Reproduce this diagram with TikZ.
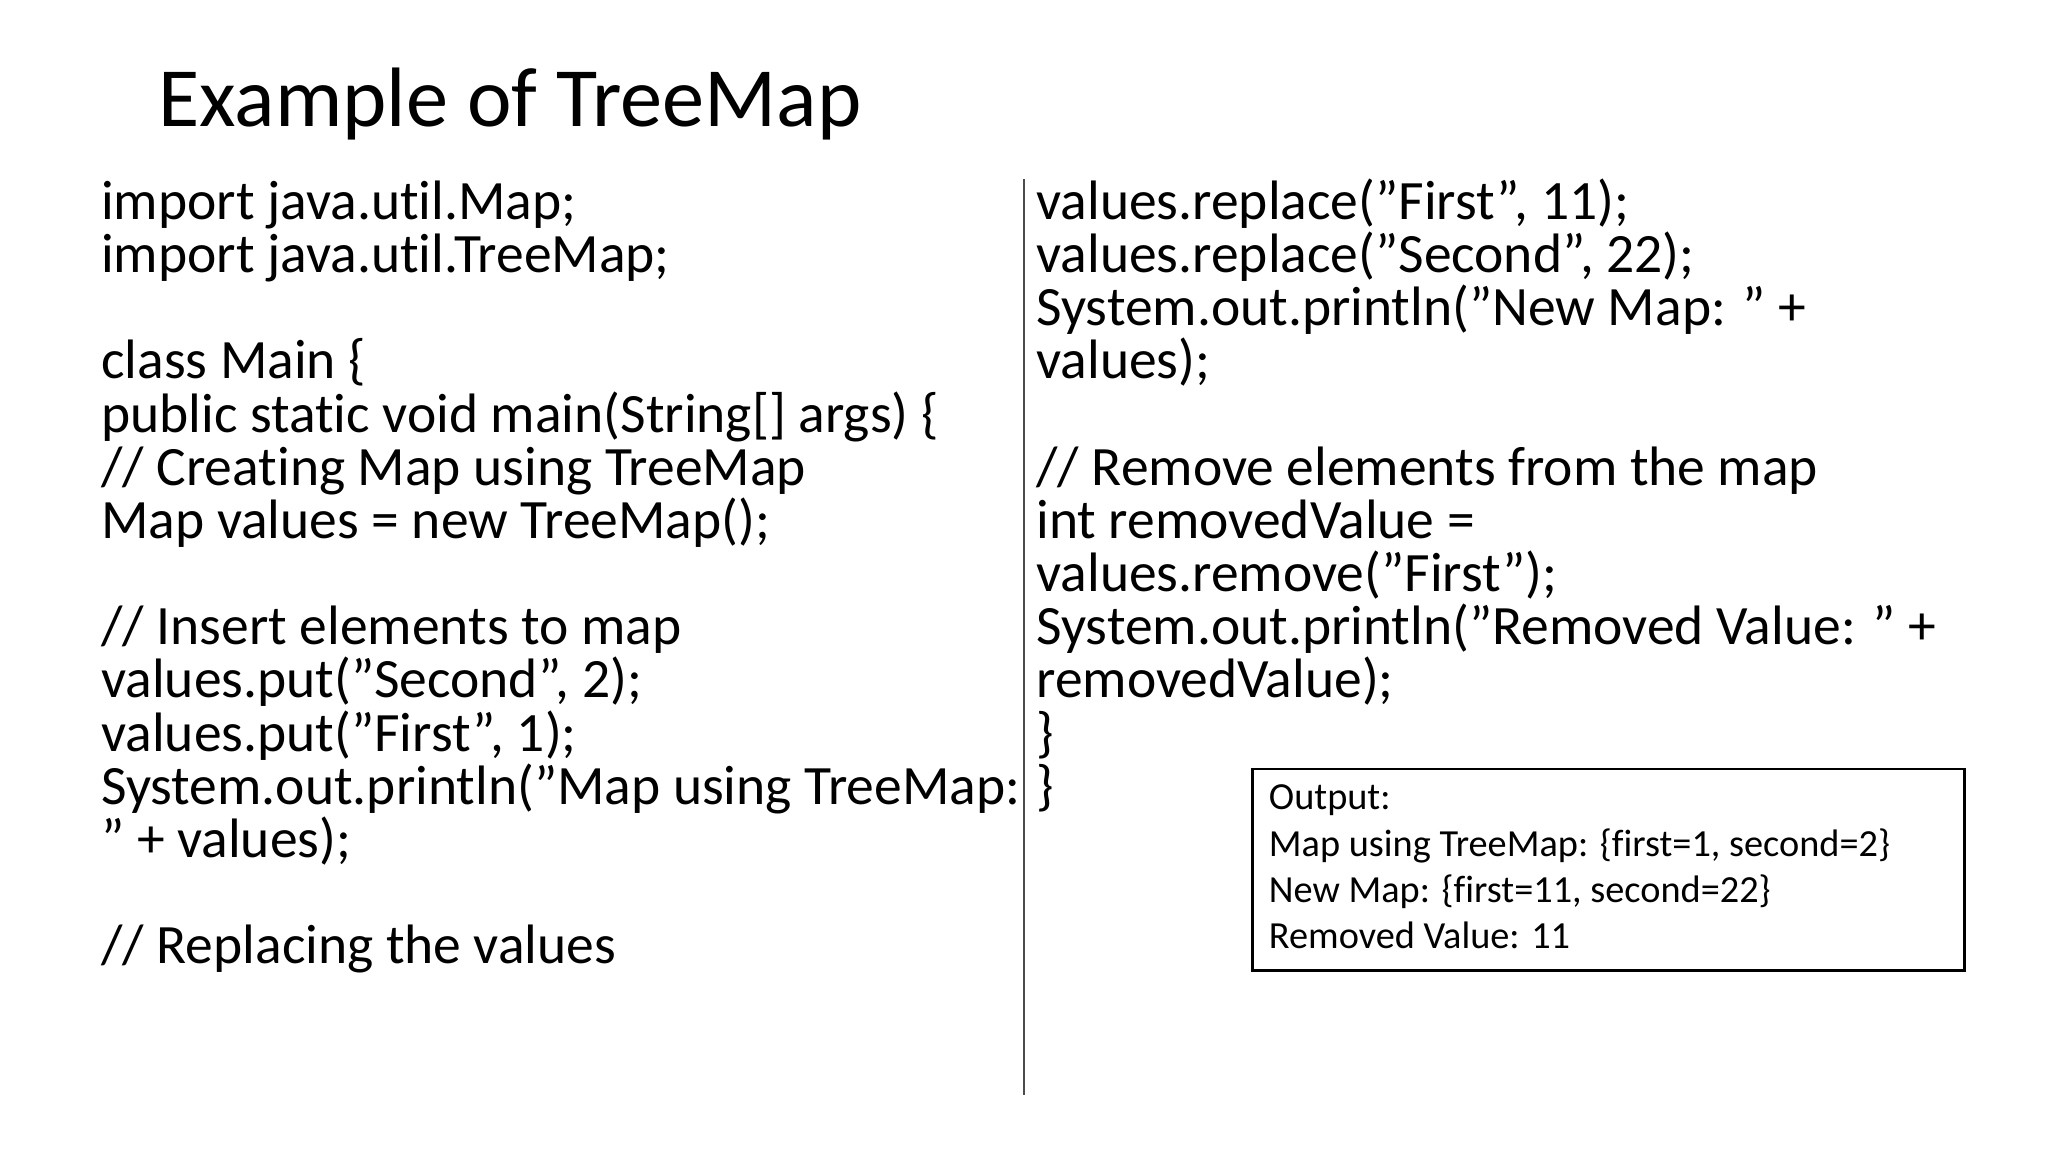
\documentclass[tikz,border=0pt]{standalone}
\usepackage{fontspec}
\defaultfontfeatures{}
\setmainfont{Carlito}[Ligatures=NoCommon]
\begin{document}
\begin{tikzpicture}[x=0.013061cm,y=-0.013061cm,
  code/.style={anchor=base west,inner sep=0,font=\fontsize{15.8}{19}\selectfont},
  outtxt/.style={anchor=base west,inner sep=0,font=\fontsize{10.9}{13}\selectfont}]
\useasboundingbox (0,0) rectangle (1568,882);
\node[anchor=base west,inner sep=0,font=\fontsize{24}{28}\selectfont] (title) at (121,97) {Example of TreeMap};
\foreach \i/\t in {0/{import java.util.Map;},1/{import java.util.TreeMap;},3/{class Main \{},4/{public static void main(String[] args) \{},5/{// Creating Map using TreeMap},6/{Map values = new TreeMap();},8/{// Insert elements to map},9/{values.put("Second", 2);},10/{values.put("First", 1);},11/{System.out.println("Map using TreeMap:},12/{" + values);},14/{// Replacing the values}}
  \node[code] (l\i) at (77,{168+40.7*\i}) {\t};
\foreach \i/\t in {0/{values.replace("First", 11);},1/{values.replace("Second", 22);},2/{System.out.println("New Map: " +},3/{values);},5/{// Remove elements from the map},6/{int removedValue =},7/{values.remove("First");},8/{System.out.println("Removed Value: " +},9/{removedValue);},10/{\}},11/{\}}}
  \node[code] (r\i) at (793,{168+40.7*\i}) {\t};
\coordinate (vt) at (784,137);
\coordinate (vb) at (784,838);
\draw[line width=0.6pt,black!70] (vt) -- (vb);
\node[draw,line width=0.7pt,minimum width={545*0.013061cm},minimum height={154*0.013061cm},anchor=north west,inner sep=0] (box) at (958,588) {};
\foreach \i/\t in {0/{Output:},1/{Map using TreeMap: \{first=1, second=2\}},2/{New Map: \{first=11, second=22\}},3/{Removed Value: 11}}
  \node[outtxt] (o\i) at (971,{620+35.5*\i}) {\t};
\end{tikzpicture}
\end{document}
